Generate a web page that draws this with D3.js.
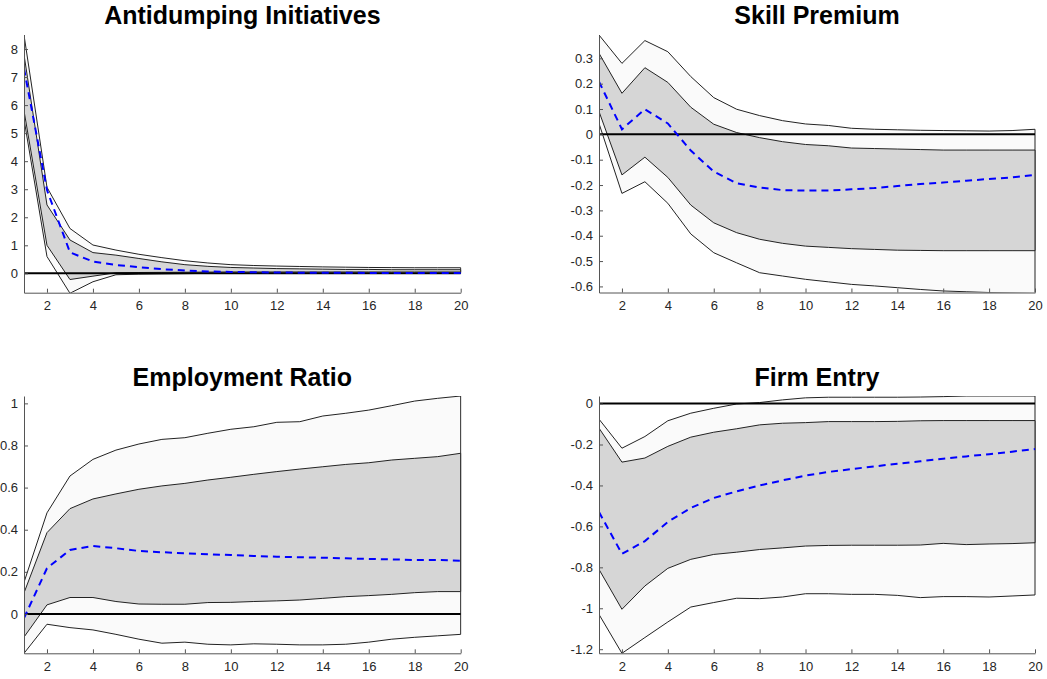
<!DOCTYPE html>
<html>
<head>
<meta charset="utf-8">
<script src="https://cdn.jsdelivr.net/npm/d3@7"></script>
<style>
  html, body { margin: 0; padding: 0; background: #fff; }
  svg { display: block; }
  text { font-family: "Liberation Sans", Arial, Helvetica, sans-serif; }
</style>
</head>
<body>
<svg id="chart" width="1047" height="679"></svg>
<script>
// ---------- data ----------
const periods = d3.range(1, 21);
const xTicks = [2, 4, 6, 8, 10, 12, 14, 16, 18, 20];

const titles = ["Antidumping Initiatives", "Skill Premium", "Employment Ratio", "Firm Entry"];

// Antidumping Initiatives
const adOuterUpper = [8.5, 3.07, 1.6, 1.01, 0.83, 0.68, 0.56, 0.45, 0.37, 0.31, 0.28, 0.26, 0.245, 0.23, 0.22, 0.21, 0.205, 0.2, 0.2, 0.2];
const adInnerUpper = [7.8, 2.44, 1.19, 0.74, 0.65, 0.53, 0.41, 0.31, 0.25, 0.21, 0.19, 0.17, 0.16, 0.15, 0.14, 0.14, 0.13, 0.13, 0.13, 0.13];
const adMedian     = [7.3, 2.97, 0.75, 0.42, 0.3, 0.22, 0.15, 0.1, 0.07, 0.05, 0.04, 0.03, 0.025, 0.02, 0.02, 0.015, 0.015, 0.01, 0.01, 0.01];
const adInnerLower = [5.8, 1.0, -0.22, -0.1, 0.02, 0.03, 0.035, 0.04, 0.045, 0.05, 0.05, 0.05, 0.05, 0.05, 0.05, 0.05, 0.05, 0.05, 0.05, 0.05];
const adOuterLower = [5.5, 0.6, -0.71, -0.3, -0.05, -0.03, -0.02, -0.01, 0, 0, 0, 0, 0, 0, 0, 0, 0, 0, 0, 0];

// Skill Premium
const spOuterUpper = [0.392, 0.28, 0.37, 0.326, 0.228, 0.145, 0.099, 0.074, 0.054, 0.041, 0.035, 0.024, 0.02, 0.018, 0.016, 0.015, 0.014, 0.013, 0.015, 0.02];
const spInnerUpper = [0.32, 0.162, 0.263, 0.205, 0.107, 0.04, 0.007, -0.013, -0.029, -0.04, -0.045, -0.054, -0.056, -0.058, -0.06, -0.062, -0.062, -0.062, -0.062, -0.062];
const spMedian     = [0.208, 0.02, 0.099, 0.043, -0.064, -0.147, -0.193, -0.21, -0.22, -0.222, -0.222, -0.217, -0.212, -0.204, -0.196, -0.19, -0.183, -0.176, -0.17, -0.16];
const spInnerLower = [0.09, -0.16, -0.09, -0.17, -0.279, -0.349, -0.388, -0.414, -0.43, -0.441, -0.446, -0.451, -0.454, -0.457, -0.458, -0.459, -0.459, -0.459, -0.459, -0.459];
const spOuterLower = [0.043, -0.233, -0.187, -0.272, -0.393, -0.467, -0.507, -0.546, -0.559, -0.572, -0.582, -0.592, -0.598, -0.605, -0.612, -0.618, -0.621, -0.624, -0.626, -0.628];

// Employment Ratio
const erOuterUpper = [0.15, 0.48, 0.655, 0.734, 0.778, 0.807, 0.829, 0.837, 0.858, 0.877, 0.889, 0.91, 0.913, 0.94, 0.953, 0.968, 0.989, 1.011, 1.024, 1.035];
const erInnerUpper = [0.1, 0.386, 0.5, 0.546, 0.57, 0.592, 0.608, 0.62, 0.636, 0.649, 0.663, 0.676, 0.688, 0.699, 0.71, 0.718, 0.731, 0.739, 0.747, 0.763];
const erMedian     = [-0.02, 0.217, 0.304, 0.323, 0.312, 0.299, 0.293, 0.288, 0.283, 0.28, 0.275, 0.272, 0.269, 0.267, 0.264, 0.261, 0.259, 0.256, 0.256, 0.253];
const erInnerLower = [-0.11, 0.043, 0.078, 0.078, 0.059, 0.047, 0.046, 0.046, 0.054, 0.055, 0.059, 0.062, 0.066, 0.074, 0.082, 0.087, 0.093, 0.101, 0.106, 0.106];
const erOuterLower = [-0.187, -0.049, -0.065, -0.076, -0.097, -0.12, -0.139, -0.134, -0.144, -0.147, -0.142, -0.144, -0.147, -0.147, -0.144, -0.134, -0.12, -0.111, -0.104, -0.097];

// Firm Entry
const feOuterUpper = [-0.076, -0.218, -0.161, -0.084, -0.047, -0.023, -0.002, 0.005, 0.018, 0.028, 0.031, 0.031, 0.031, 0.031, 0.032, 0.034, 0.037, 0.037, 0.037, 0.037];
const feInnerUpper = [-0.12, -0.286, -0.266, -0.209, -0.164, -0.14, -0.123, -0.104, -0.096, -0.093, -0.088, -0.088, -0.088, -0.087, -0.084, -0.083, -0.083, -0.083, -0.083, -0.083];
const feMedian     = [-0.53, -0.734, -0.672, -0.578, -0.51, -0.461, -0.429, -0.4, -0.375, -0.352, -0.334, -0.32, -0.307, -0.294, -0.282, -0.269, -0.258, -0.247, -0.235, -0.222];
const feInnerLower = [-0.81, -1.005, -0.891, -0.805, -0.761, -0.737, -0.726, -0.713, -0.705, -0.696, -0.693, -0.692, -0.692, -0.692, -0.691, -0.683, -0.689, -0.686, -0.684, -0.68];
const feOuterLower = [-1.03, -1.22, -1.143, -1.067, -0.994, -0.972, -0.951, -0.953, -0.945, -0.929, -0.929, -0.932, -0.932, -0.937, -0.948, -0.943, -0.943, -0.945, -0.94, -0.935];

const yDomains = [[-0.69, 8.5], [-0.624, 0.392], [-0.187, 1.035], [-1.22, 0.037]];
const yTickSets = [
  [0, 1, 2, 3, 4, 5, 6, 7, 8],
  [-0.6, -0.5, -0.4, -0.3, -0.2, -0.1, 0, 0.1, 0.2, 0.3],
  [0, 0.2, 0.4, 0.6, 0.8, 1],
  [-1.2, -1, -0.8, -0.6, -0.4, -0.2, 0]
];

const panelsData = [
  { ou: adOuterUpper, iu: adInnerUpper, med: adMedian, il: adInnerLower, ol: adOuterLower },
  { ou: spOuterUpper, iu: spInnerUpper, med: spMedian, il: spInnerLower, ol: spOuterLower },
  { ou: erOuterUpper, iu: erInnerUpper, med: erMedian, il: erInnerLower, ol: erOuterLower },
  { ou: feOuterUpper, iu: feInnerUpper, med: feMedian, il: feInnerLower, ol: feOuterLower }
];

// ---------- layout ----------
const layout = [
  { x0: 24, x1: 460.7, y0: 35, y1: 292.7, titleY: 24 },
  { x0: 599, x1: 1035, y0: 35, y1: 292.5, titleY: 24 },
  { x0: 24, x1: 460.7, y0: 396, y1: 653.3, titleY: 386 },
  { x0: 599, x1: 1035, y0: 396, y1: 653.3, titleY: 386 }
];

const svg = d3.select("#chart");
const fmt = v => String(Math.round(v * 10) / 10);

layout.forEach((L, i) => {
  const d = panelsData[i];
  const x = d3.scaleLinear().domain([1, 20]).range([L.x0, L.x1]);
  const y = d3.scaleLinear().domain(yDomains[i]).range([L.y1, L.y0]);
  const g = svg.append("g");

  const clipId = "clip" + i;
  svg.append("defs").append("clipPath").attr("id", clipId)
    .append("rect").attr("x", L.x0).attr("y", L.y0)
    .attr("width", L.x1 - L.x0 + 1).attr("height", L.y1 - L.y0);

  const plot = g.append("g").attr("clip-path", `url(#${clipId})`);

  const band = (up, lo) => {
    const pts = periods.map((p, k) => [x(p), y(up[k])])
      .concat(periods.slice().reverse().map((p, k) => [x(p), y(lo[19 - k])]));
    return d3.line()(pts) + "Z";
  };

  plot.append("path").attr("d", band(d.ou, d.ol))
    .attr("fill", "#fafafa").attr("stroke", "#222").attr("stroke-width", 1);
  plot.append("path").attr("d", band(d.iu, d.il))
    .attr("fill", "#d6d6d6").attr("stroke", "#222").attr("stroke-width", 1);

  plot.append("line")
    .attr("x1", x(1)).attr("x2", x(20))
    .attr("y1", y(0)).attr("y2", y(0))
    .attr("stroke", "#000").attr("stroke-width", 2);

  const line = d3.line().x((p) => x(p)).y((p, k) => y(d.med[k]));
  plot.append("path").attr("d", line(periods))
    .attr("fill", "none").attr("stroke", "#0000ff")
    .attr("stroke-width", 2).attr("stroke-dasharray", "7,5");

  // axes
  const ax = g.append("g").attr("transform", `translate(0,${L.y1})`)
    .call(d3.axisBottom(x).tickValues(xTicks).tickFormat(fmt)
      .tickSizeInner(-4).tickSizeOuter(0).tickPadding(8));
  const ay = g.append("g").attr("transform", `translate(${L.x0},0)`)
    .call(d3.axisLeft(y).tickValues(yTickSets[i]).tickFormat(fmt)
      .tickSizeInner(-4).tickSizeOuter(0).tickPadding(6));
  [ax, ay].forEach(a => {
    a.select(".domain").attr("stroke", "#555").attr("stroke-width", 1);
    a.selectAll(".tick line").attr("stroke", "#555").attr("stroke-width", 1);
    a.selectAll(".tick text").attr("fill", "#262626")
      .style("font-size", "13px")
      .style("font-family", "'Liberation Sans', Arial, Helvetica, sans-serif");
  });

  g.append("text")
    .attr("x", (L.x0 + L.x1) / 2).attr("y", L.titleY)
    .attr("text-anchor", "middle")
    .style("font-size", "25px").style("font-weight", "bold")
    .attr("fill", "#000")
    .text(titles[i]);
});
</script>
</body>
</html>
